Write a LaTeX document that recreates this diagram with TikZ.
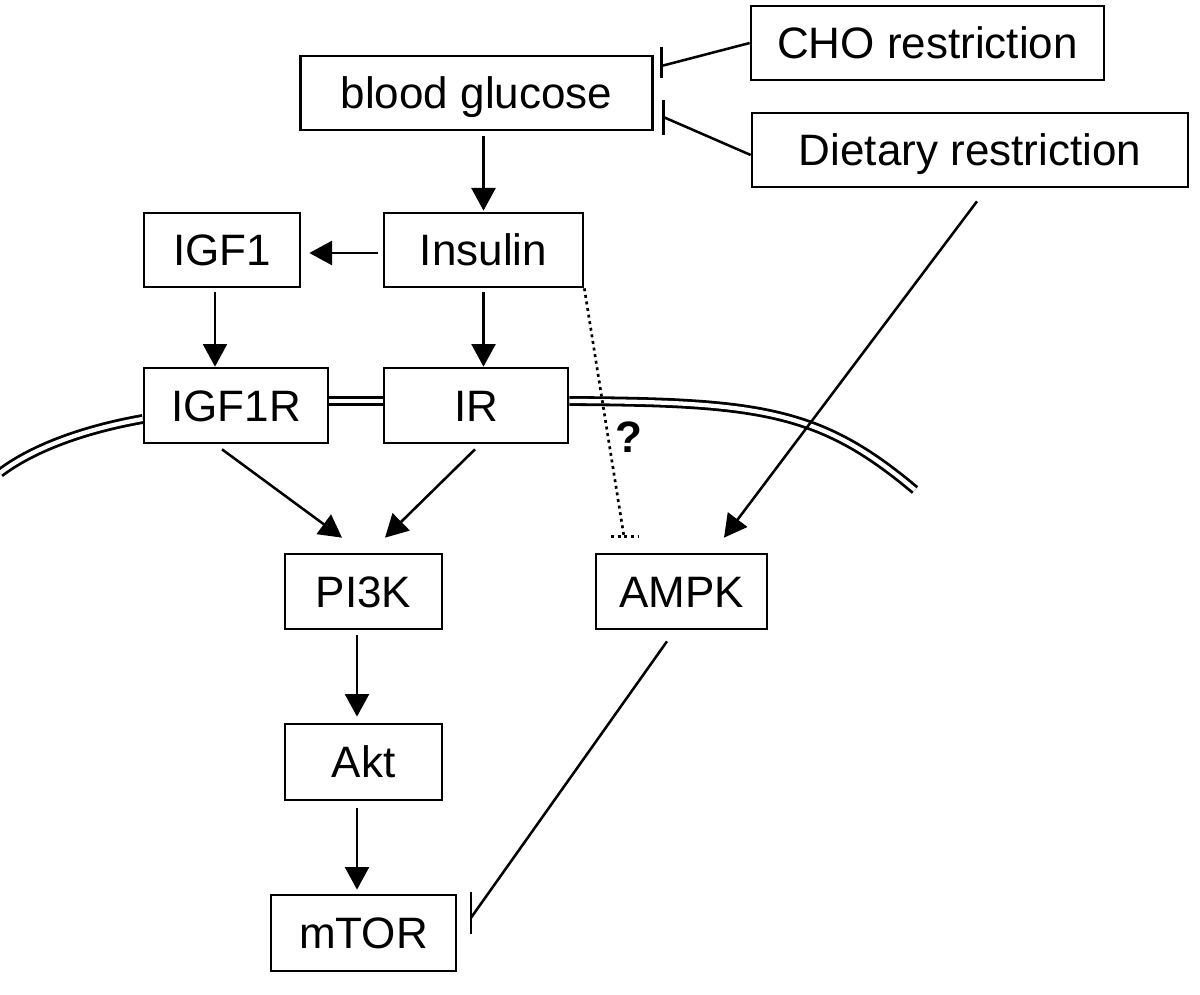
\documentclass[tikz,border=0pt]{standalone}
\usepackage{fontspec}
\setmainfont{Liberation Sans}
\usetikzlibrary{arrows.meta,calc}
\begin{document}
\begin{tikzpicture}[x=0.75pt,y=-0.75pt,
  box/.style={draw,line width=2pt,inner sep=0pt,fill=white,
    font=\fontsize{33pt}{40pt}\selectfont,text height=23.6pt,text depth=0pt,
    minimum height=55.5pt},
  arr/.style={line width=1.9pt,-{Triangle[length=17pt,width=18pt]}},
  inh/.style={line width=1.9pt},
  dotinh/.style={line width=2pt,dash pattern=on 2.2pt off 2.8pt},
  mem/.style={double,line width=2.1pt,double distance=3.2pt}]
\useasboundingbox (0,0) rectangle (1200,995);

% nodes
\node[box,minimum width=264.75pt] (cho) at (927.5,43) {CHO restriction};
\node[box,minimum width=264pt] (bg) at (476.5,93) {blood glucose};
\node[box,minimum width=327pt] (diet) at (970,150) {Dietary restriction};
\node[box,minimum width=117pt] (igf1) at (222,250) {IGF1};
\node[box,minimum width=149.25pt] (ins) at (483.5,250) {Insulin};
\node[box,minimum width=138pt,minimum height=56.25pt] (igf1r) at (236,405.5) {IGF1R};
\node[box,minimum width=138pt,minimum height=56.25pt] (ir) at (476,405.5) {IR};
\node[box,minimum width=117.75pt,minimum height=56.25pt] (pi3k) at (363.5,591.5) {PI3K};
\node[box,minimum width=128.25pt,minimum height=56.25pt] (ampk) at (681.5,591.5) {AMPK};
\node[box,minimum width=117.75pt,minimum height=57pt] (akt) at (363.5,762) {Akt};
\node[box,minimum width=138.75pt,minimum height=57pt] (mtor) at (363.5,933) {mTOR};
\node[font=\bfseries\fontsize{33pt}{40pt}\selectfont,text height=23.6pt,text depth=0pt,inner sep=0pt] (q) at (629,437) {?};

% membrane
\coordinate (memL) at (0,473);
\coordinate (memR) at (915,490);
\draw[mem] ($(igf1r.east)+(0,-4.5)$) -- ($(ir.west)+(0,-4.5)$);
\draw[mem] ($(ir.east)+(0,-4.5)$) .. controls (760,402) and (820,410) .. (memR);
\draw[mem] ($(igf1r.west)+(0,13.5)$) .. controls (80,430) and (30,450) .. (memL);

% activating arrows
\draw[arr] ($(bg.south -| ins.north)+(0,5)$) -- ($(ins.north)+(0,-1)$);
\draw[arr] ($(ins.west)+(-5,3)$) -- ($(igf1.east)+(8,3)$);
\draw[arr] ($(igf1.south)+(-7,4)$) -- ($(igf1r.north)+(-21,0)$);
\draw[arr] ($(ins.south)+(0,4)$) -- ($(ir.north)+(7.5,0)$);
\draw[arr] ($(igf1r.south)+(-14,5)$) -- ($(pi3k.north)+(-21.5,-15)$);
\draw[arr] ($(ir.south)+(-1,5)$) -- ($(pi3k.north)+(21.5,-15)$);
\draw[arr] ($(diet.south)+(7,13)$) -- ($(ampk.north)+(42.5,-15)$);
\draw[arr] ($(pi3k.south)+(-6.5,5)$) -- ($(akt.north)+(-6.5,-6)$);
\draw[arr] ($(akt.south)+(-6.5,7)$) -- ($(mtor.north)+(-6.5,-4)$);

% inhibitions
\coordinate (t1) at ($(bg.east)+(7.5,-27)$);
\draw[inh] (cho.west) -- (t1);
\draw[inh] ($(t1)+(0,-19)$) -- ($(t1)+(0,12)$);
\coordinate (t2) at ($(bg.east)+(9.5,24)$);
\draw[inh] ($(diet.west)+(0,5)$) -- (t2);
\draw[inh] ($(t2)+(0,-17)$) -- ($(t2)+(0,18)$);
\coordinate (t3) at ($(mtor.east)+(13.5,-15)$);
\draw[inh] ($(ampk.south)+(-14.5,11)$) -- (t3);
\draw[inh] ($(t3)+(0,-26)$) -- ($(t3)+(0,16)$);
\coordinate (t4) at ($(ampk.north)+(-57.5,-16)$);
\draw[dotinh] (ins.south east) -- (t4);
\draw[dotinh] ($(t4)+(-13,0)$) -- ($(t4)+(14,0)$);
\end{tikzpicture}
\end{document}
